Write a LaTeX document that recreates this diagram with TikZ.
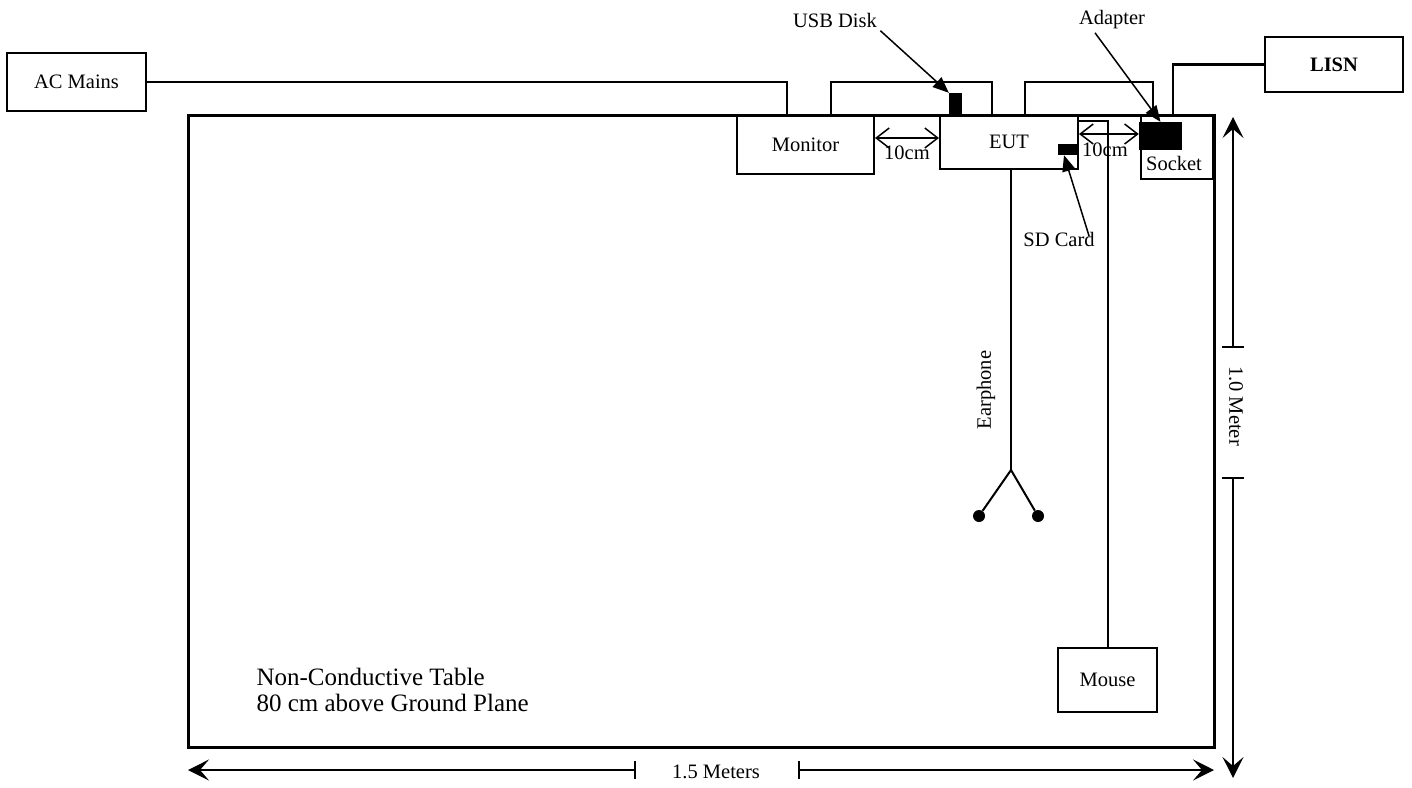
\documentclass[tikz,border=0pt]{standalone}
\usepackage{fontspec}
\setmainfont{Liberation Serif}
\usetikzlibrary{arrows.meta}

\begin{document}
\begin{tikzpicture}[x=1pt,y=-1pt,
  every node/.style={font=\fontsize{20.5}{24}\selectfont},
  box/.style={draw,line width=2pt,inner sep=0pt},
  block/.style={fill=black,inner sep=0pt},
  cable/.style={line width=2pt},
  pointer/.style={line width=1.5pt,-{Triangle[length=16pt,width=13pt]}},
  gap/.style={line width=1.5pt,{Straight Barb[length=13pt,width=20pt]}-{Straight Barb[length=13pt,width=20pt]}},
  dim/.style={line width=1.5pt,-{Stealth[length=21pt,width=21pt,inset=9pt]}},
  dot/.style={circle,fill=black,inner sep=0pt,minimum size=12pt}]
\useasboundingbox (0,0) rectangle (1412,787);

% Draw the table
\node[draw,line width=3pt,inner sep=0pt,minimum width=1026pt,minimum height=632pt] (table) at (701,431) {};
\node[anchor=west,align=left,font=\fontsize{25}{26}\selectfont] (tabletext) at (253,690) {Non-Conductive Table\\80 cm above Ground Plane};

% Draw the units
\node[box,minimum width=139pt,minimum height=58pt] (acmains) at (76.5,81.5) {AC Mains};
\node[box,minimum width=137pt,minimum height=59pt] (monitor) at (805.5,144.5) {Monitor};
\node[box,minimum width=138pt,minimum height=54pt] (eut) at (1009,142) {EUT};
\node[box,minimum width=72pt,minimum height=64pt,
  label={[anchor=south,xshift=-3pt,yshift=6pt]south:Socket}] (socket) at (1177,147) {};
\node[box,minimum width=99pt,minimum height=64pt] (mouse) at (1107.5,680) {Mouse};
\node[box,minimum width=138pt,minimum height=55pt] (lisn) at (1334,64.5) {\textbf{LISN}};

% Draw the small parts
\node[block,minimum width=13pt,minimum height=22pt] (usb) at (955.5,104) {};
\node[block,minimum width=20pt,minimum height=11pt] (sdcard) at (1068,149.5) {};
\node[block,minimum width=43pt,minimum height=28pt] (adapter) at (1160.5,136) {};

% Draw cables
\draw[cable] (acmains.east) -| ([xshift=-18.5pt]monitor.north);
\draw[cable] ([xshift=25.5pt]monitor.north) -- ++(0,-32) -| ([xshift=-17pt]eut.north);
\draw[cable] ([xshift=16pt]eut.north) -- ++(0,-32) -| ([xshift=-24pt]socket.north);
\draw[cable,line width=2.5pt] (lisn.west) -| ([xshift=-4pt]socket.north);
\draw[cable] ([yshift=-7pt]eut.north east) -| (mouse.north);

% Earphone
\coordinate (split) at (1011,470);
\node[dot] (budL) at (979,516) {};
\node[dot] (budR) at (1038,516) {};
\draw[cable] ([xshift=2pt]eut.south) -- (split);
\draw[cable] (budL) -- (split) -- (budR);
\node[rotate=90] (earlabel) at (986,390) {Earphone};

% Labels with pointers
\node (usblabel) at (835,20) {USB Disk};
\node (adlabel) at (1112,20) {Adapter};
\node (sdlabel) at (1059,239) {SD Card};
\draw[pointer] (usblabel.south east) -- (usb.north west);
\draw[pointer] ([xshift=-17pt]adlabel.south) -- (adapter.north);
\draw[pointer] ([xshift=-9pt,yshift=-8pt]sdlabel.north east) -- ([xshift=-4pt]sdcard.south);

% 10 cm spacings
\draw[gap] ([yshift=6.5pt]monitor.east) -- ([yshift=6.5pt]monitor.east -| eut.west);
\node (gapA) at (907,153) {10cm};
\draw[gap] ([yshift=2pt]adapter.west -| eut.east) -- ([yshift=2pt]adapter.west);
\node (gapB) at (1105,150) {10cm};

% Dimension 1.0 Meter
\coordinate (vtop) at (1233,117);
\coordinate (vbot) at (1233,778);
\coordinate (vtickA) at (1233,347);
\coordinate (vtickB) at (1233,478);
\draw[dim] (vtickA) -- (vtop);
\draw[dim] (vtickB) -- (vbot);
\draw[line width=1.5pt] ([xshift=-11pt]vtickA) -- ([xshift=11pt]vtickA);
\draw[line width=1.5pt] ([xshift=-11pt]vtickB) -- ([xshift=11pt]vtickB);
\node[rotate=-90] (vlabel) at (1236,406) {1.0 Meter};

% Dimension 1.5 Meters
\coordinate (hleft) at (188,770);
\coordinate (hright) at (1214,770);
\coordinate (htickA) at (635,770);
\coordinate (htickB) at (799,770);
\draw[dim] (htickA) -- (hleft);
\draw[dim] (htickB) -- (hright);
\draw[line width=1.5pt] ([yshift=-9pt]htickA) -- ([yshift=9pt]htickA);
\draw[line width=1.5pt] ([yshift=-9pt]htickB) -- ([yshift=9pt]htickB);
\node (hlabel) at (716,772) {1.5 Meters};
\end{tikzpicture}
\end{document}
